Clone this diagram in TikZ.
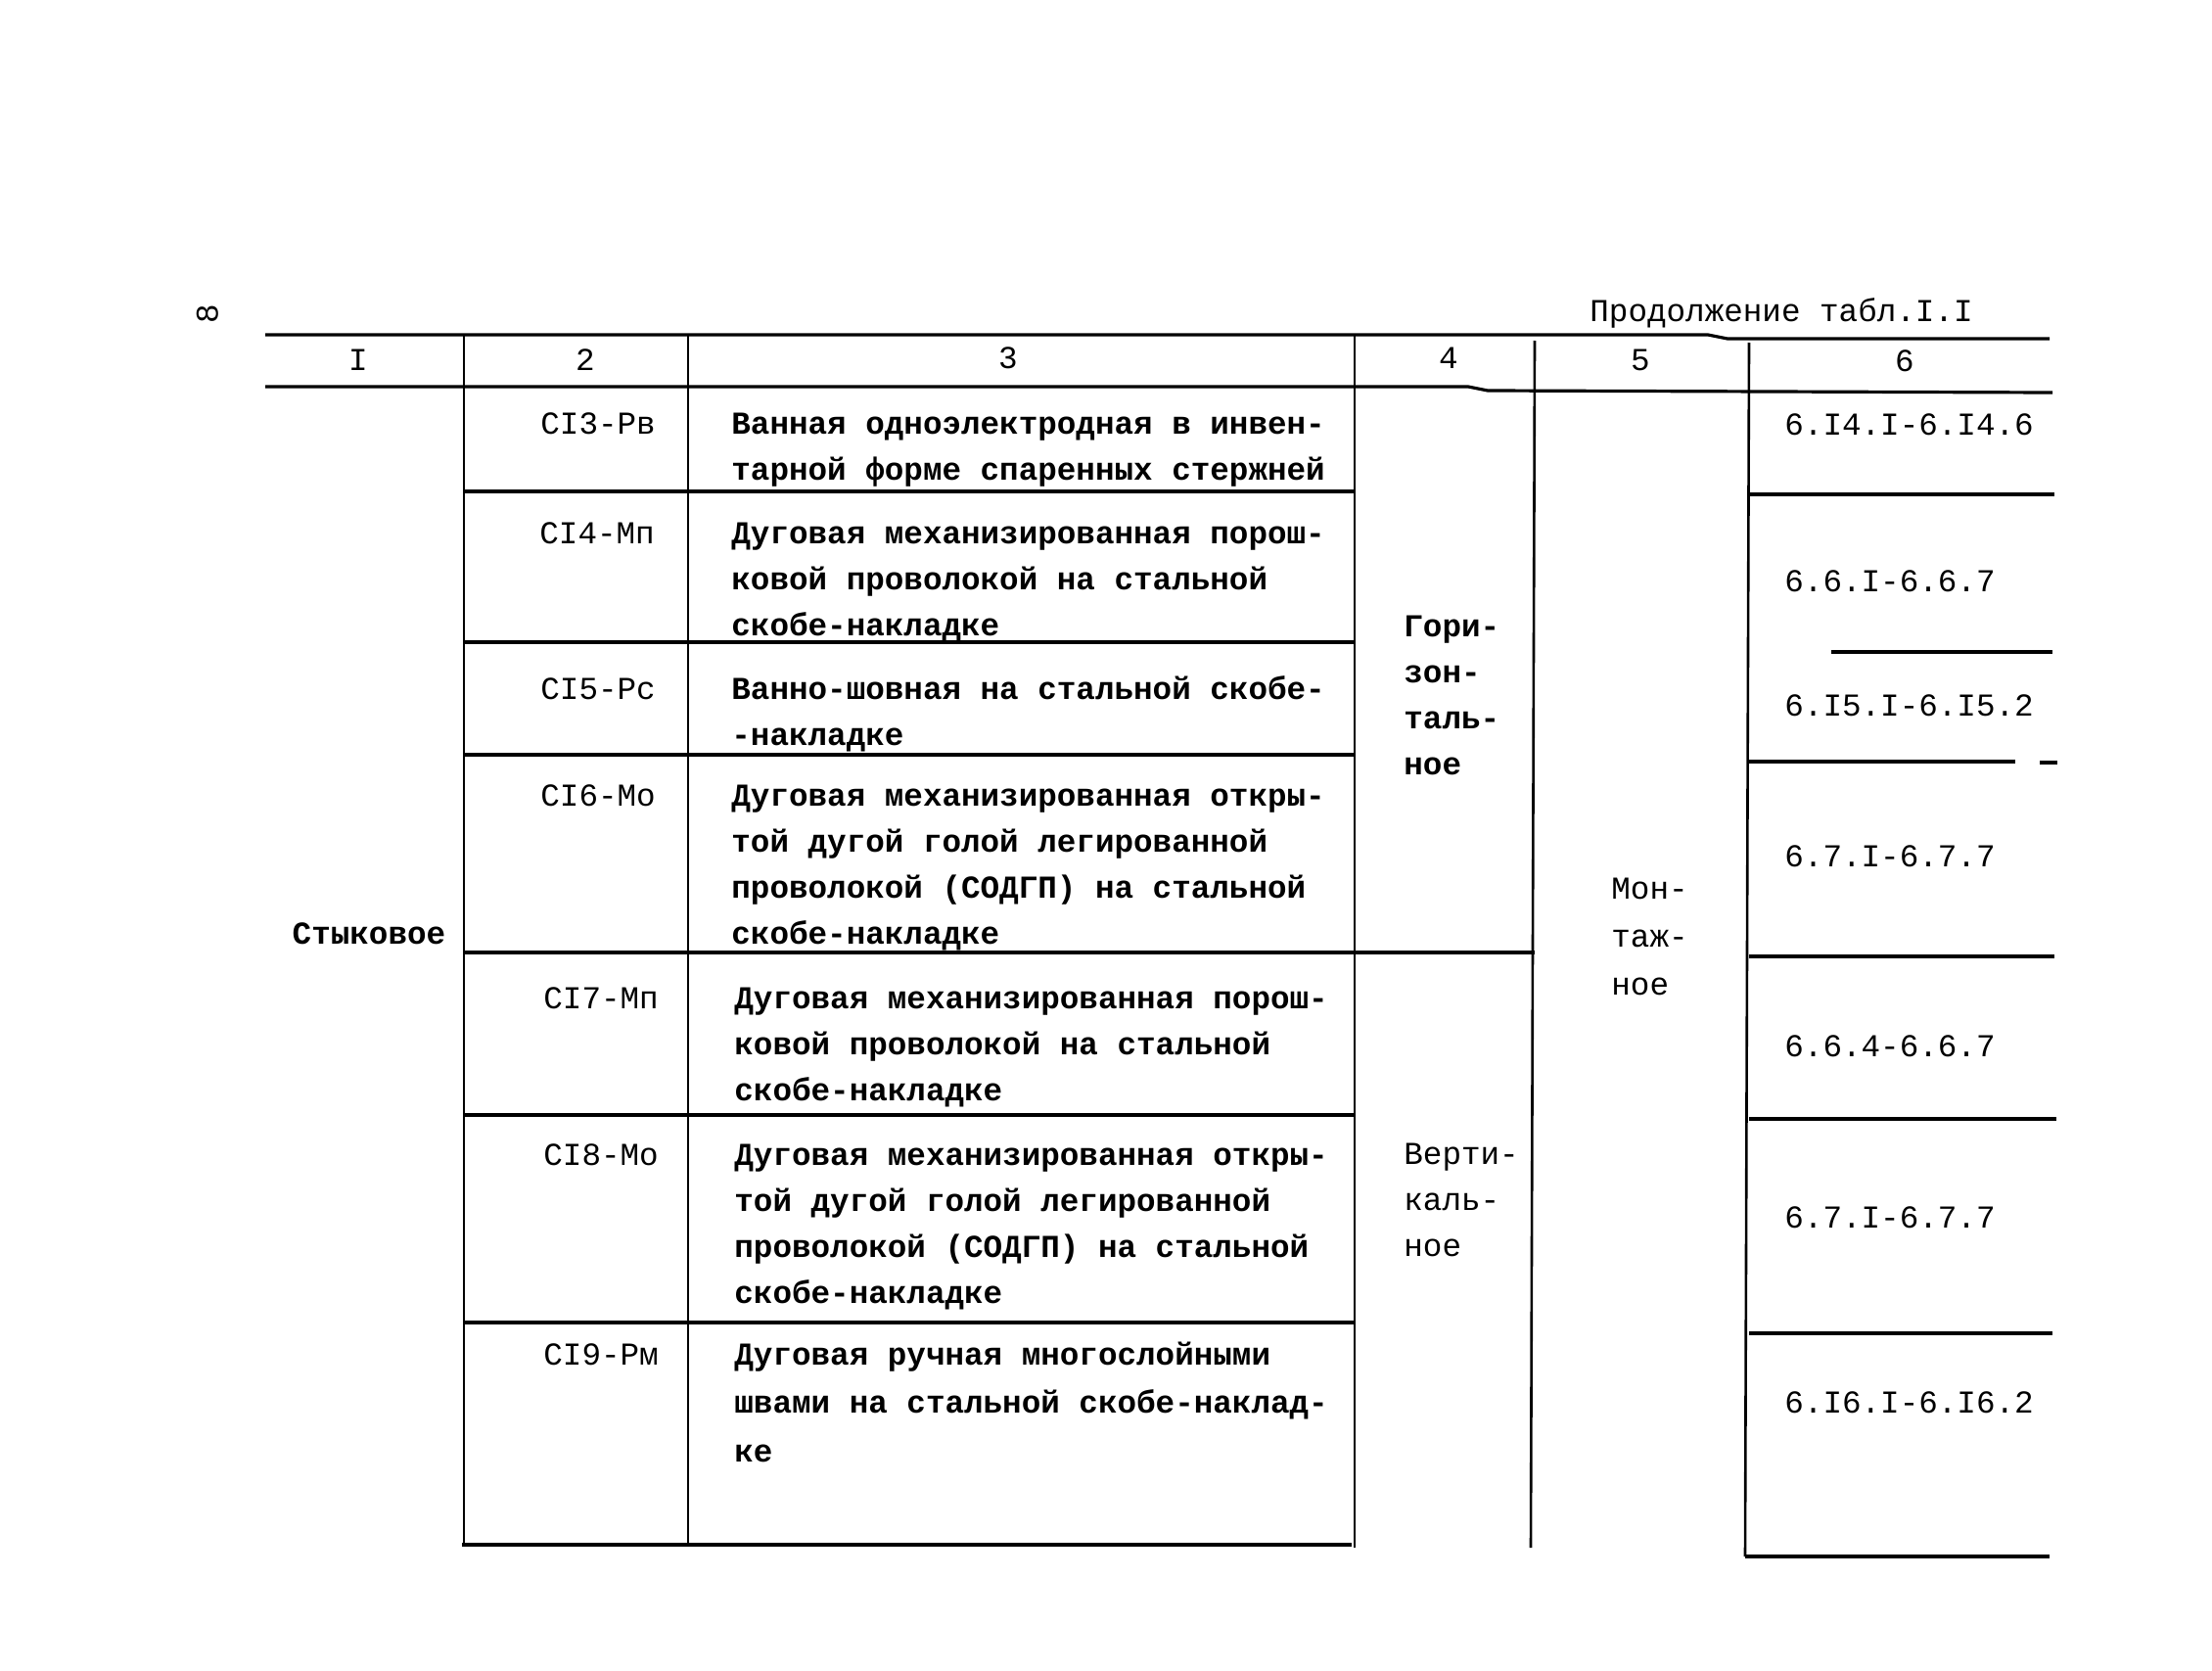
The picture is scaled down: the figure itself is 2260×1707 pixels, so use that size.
\documentclass[tikz,border=0pt]{standalone}
\usepackage{fontspec}
\setmainfont{Liberation Mono}
\newcommand\cellrows[6]{\foreach \rowtxt [count=\i] in {#6} {\node[#5] (#1-\i) at (#2,{#3+(\i-1)*#4}) {\rowtxt};}}
\begin{document}
\begin{tikzpicture}[x=0.5pt,y=-0.5pt,
  txt/.style={font=\fontsize{16.3}{20}\selectfont, inner sep=0pt, anchor=base west},
  bld/.style={txt, font=\fontsize{16.3}{20}\selectfont\bfseries},
  hnum/.style={font=\fontsize{16.3}{20}\selectfont, inner sep=0pt, anchor=center},
  hrule/.style={line width=1.6pt},
  vrule/.style={line width=1.3pt}]
\fill[white] (0,0) rectangle (2260,1707);
\useasboundingbox (0,0) rectangle (2260,1707);

% page mark and caption
\node[hnum, rotate=90] (pg) at (212,321) {8};
\node[txt] (cap) at (1624,328) {Продолжение табл.I.I};

% header rules
\draw[hrule] (271,342) -- (1745,342) -- (1765,346) -- (2094,346);
\draw[hrule] (271,395) -- (1500,395) -- (1520,399) -- (2097,401);

% vertical rules
\draw[vrule] (474,342) -- (474,1578);
\draw[vrule] (703,342) -- (703,1578);
\draw[vrule] (1384,342) -- (1384,1581);
\draw[vrule] (1568,348) -- (1564,1581);
\draw[vrule] (1787,350) -- (1783,1590);

% header numbers
\node[hnum] (h1) at (366,368) {I};
\node[hnum] (h2) at (598,368) {2};
\node[hnum] (h3) at (1030,366) {3};
\node[hnum] (h4) at (1480,366) {4};
\node[hnum] (h5) at (1676,368) {5};
\node[hnum] (h6) at (1946,369) {6};

% row rules cols 2-3
\draw[hrule] (474,502) -- (1384,502);
\draw[hrule] (474,656) -- (1384,656);
\draw[hrule] (474,771) -- (1384,771);
\draw[hrule] (474,973) -- (1568,973);
\draw[hrule] (474,1139) -- (1384,1139);
\draw[hrule] (474,1351) -- (1384,1351);
\draw[hrule] (472,1578) -- (1381,1578);

% row rules col 6
\draw[hrule] (1787,505) -- (2099,505);
\draw[hrule] (1871,666) -- (2097,666);
\draw[hrule] (1787,778) -- (2059,778);
\draw[hrule] (2084,779) -- (2102,779);
\draw[hrule] (1787,977) -- (2099,977);
\draw[hrule] (1787,1143) -- (2101,1143);
\draw[hrule] (1787,1362) -- (2097,1362);
\draw[hrule] (1783,1590) -- (2094,1590);

% column 1
\node[bld, anchor=base] (c1) at (377,964) {Стыковое};

% column 2
\node[txt] (k13) at (552,443) {СI3-Рв};
\node[txt] (k14) at (551,555) {СI4-Мп};
\node[txt] (k15) at (552,714) {СI5-Рс};
\node[txt] (k16) at (552,823) {СI6-Мо};
\node[txt] (k17) at (555,1030) {СI7-Мп};
\node[txt] (k18) at (555,1190) {СI8-Мо};
\node[txt] (k19) at (555,1394) {СI9-Рм};

% column 3
\cellrows{d13}{747}{443}{47.5}{bld}{Ванная одноэлектродная в инвен-,тарной форме спаренных стержней}
\cellrows{d14}{747}{555}{47}{bld}{Дуговая механизированная порош-,ковой проволокой на стальной,скобе-накладке}
\cellrows{d15}{747}{714}{47}{bld}{Ванно-шовная на стальной скобе-,-накладке}
\cellrows{d16}{747}{823}{47}{bld}{Дуговая механизированная откры-,той дугой голой легированной,проволокой (СОДГП) на стальной,скобе-накладке}
\cellrows{d17}{750}{1030}{47}{bld}{Дуговая механизированная порош-,ковой проволокой на стальной,скобе-накладке}
\cellrows{d18}{750}{1190}{47}{bld}{Дуговая механизированная откры-,той дугой голой легированной,проволокой (СОДГП) на стальной,скобе-накладке}
\cellrows{d19}{750}{1394}{49.5}{bld}{Дуговая ручная многослойными,швами на стальной скобе-наклад-,ке}

% column 4
\cellrows{gor}{1434}{650}{47}{bld}{Гори-,зон-,таль-,ное}
\cellrows{ver}{1434}{1189}{47}{txt}{Верти-,каль-,ное}

% column 5
\cellrows{mon}{1646}{918}{49}{txt}{Мон-,таж-,ное}

% column 6
\node[txt] (r13) at (1823,444) {6.I4.I-6.I4.6};
\node[txt] (r14) at (1823,604) {6.6.I-6.6.7};
\node[txt] (r15) at (1823,731) {6.I5.I-6.I5.2};
\node[txt] (r16) at (1823,885) {6.7.I-6.7.7};
\node[txt] (r17) at (1823,1079) {6.6.4-6.6.7};
\node[txt] (r18) at (1823,1254) {6.7.I-6.7.7};
\node[txt] (r19) at (1823,1443) {6.I6.I-6.I6.2};
\end{tikzpicture}
\end{document}
